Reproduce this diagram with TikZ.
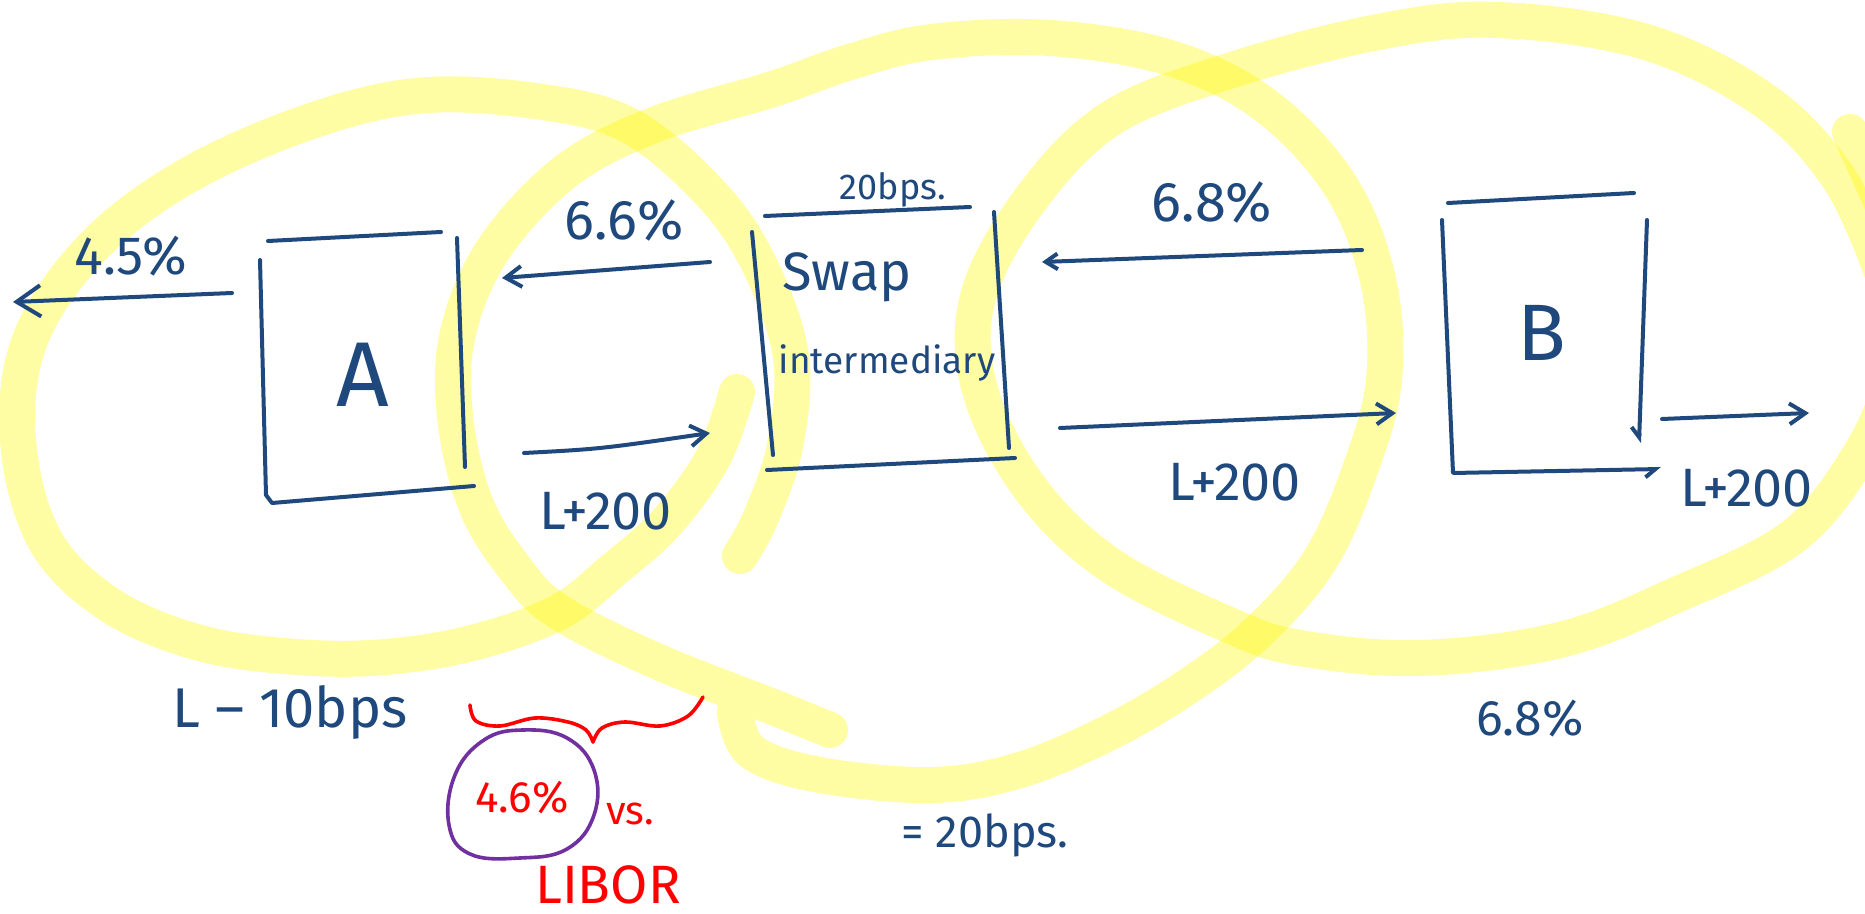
\documentclass[tikz,border=0pt]{standalone}
\usepackage{fontspec}
\setmainfont{Fira Sans}
\usetikzlibrary{arrows.meta}
\definecolor{ink}{RGB}{31,73,125}
\definecolor{hilite}{RGB}{255,250,0}
\definecolor{redink}{RGB}{255,0,0}
\definecolor{violetink}{RGB}{112,48,160}

\begin{document}
\begin{tikzpicture}[x=0.5pt,y=-0.5pt,
    hl/.style={hilite,opacity=0.36,line width=18pt,line cap=round,line join=round},
    pen/.style={ink,line width=2pt,line cap=round,line join=round},
    txt/.style={text=ink,inner sep=0pt,font=\fontsize{#1}{#1}\selectfont},
    redtxt/.style={text=redink,inner sep=0pt,font=\fontsize{#1}{#1}\selectfont},
    barb/.style={-{Straight Barb[length=#1,width=1.3*#1]}},
    hook/.style={-{Straight Barb[harpoon,swap,length=5pt,width=8pt]}}]
    % page
    \useasboundingbox (0,0) rectangle (1865,914);
    \fill[white] (0,0) rectangle (1865,914);
    \clip (0,0) rectangle (1865,914);
    % highlighter loops
    \draw[hl] plot[smooth,tension=0.6] coordinates {(737,392) (713,458) (666,523) (612,571) (559,612) (476,642) (386,657) (297,657) (200,643) (110,605) (45,540) (18,440) (30,340) (90,250) (180,180) (300,125) (416,96) (535,101) (630,126) (713,196) (761,268) (791,357) (785,446) (761,517) (740,556)};
    \draw[hl] plot[smooth,tension=0.6] coordinates {(735,712) (752,752) (820,775) (932,785) (1020,770) (1110,732) (1190,685) (1259,631) (1320,560) (1360,470) (1384,380) (1378,280) (1340,185) (1265,105) (1170,58) (1050,38) (932,42) (850,62) (773,89) (654,125) (565,172) (493,250) (458,333) (455,416) (476,505) (517,571) (559,612) (654,660) (773,707) (830,730)};
    \draw[hl] plot[smooth,tension=0.6] coordinates {(1900,360) (1865,446) (1795,535) (1676,595) (1560,640) (1420,658) (1300,648) (1229,625) (1110,565) (1030,488) (980,390) (978,297) (1030,200) (1110,119) (1229,71) (1378,32) (1497,20) (1646,42) (1765,101) (1840,180) (1885,280)};
    \draw[hl] (1850,132) -- (1885,210);
    % box A
    \draw[pen] (268,241) -- (441,232);
    \draw[pen] (260,260) -- (266,495) -- (272,503) -- (474,486);
    \draw[pen] (457,238) -- (465,467);
    \node[txt=46] (A) at (363,375) {A};
    % swap box
    \draw[pen] (765,216) -- (970,207);
    \draw[pen] (752,232) -- (773,455);
    \draw[pen] (994,212) -- (1009,448);
    \draw[pen] (767,470) -- (1015,458);
    \node[txt=18] (fee) at (893,190) {20bps.};
    \node[txt=27] (swap) at (847,277) {Swap};
    \node[txt=18.5] (inter) at (887,363) {intermediary};
    % box B
    \draw[pen] (1448,203) -- (1634,193);
    \draw[pen,hook] (1442,220) -- (1453,473) -- (1661,469);
    \draw[pen,hook] (1647,220) -- (1639,443);
    \node[txt=40] (B) at (1542,333) {B};
    % arrow ends
    \coordinate (a1) at (232,293);  \coordinate (a0) at (13,302);
    \coordinate (s1) at (710,262);  \coordinate (s0) at (502,278);
    \coordinate (l0) at (524,453);  \coordinate (l1) at (710,433);
    \coordinate (b1) at (1362,250); \coordinate (b0) at (1042,262);
    \coordinate (m0) at (1060,428); \coordinate (m1) at (1396,413);
    \coordinate (o0) at (1662,419); \coordinate (o1) at (1809,413);
    % flows
    \draw[pen,barb=12pt] (a1) -- (a0);
    \draw[pen,barb=8pt] (s1) -- (s0);
    \draw[pen,barb=8pt] (l0) .. controls (600,449) .. (l1);
    \draw[pen,barb=6pt] (b1) -- (b0);
    \draw[pen,barb=8pt] (m0) -- (m1);
    \draw[pen,barb=8pt] (o0) -- (o1);
    % rates
    \node[txt=27] (r45) at (131,256) {4.5\%};
    \node[txt=28] (r66) at (624,220) {6.6\%};
    \node[txt=27] (lA) at (606,511) {L+200};
    \node[txt=28] (r68) at (1212,202) {6.8\%};
    \node[txt=27] (lB) at (1235,482) {L+200};
    \node[txt=27] (lout) at (1747,488) {L+200};
    % net results
    \node[txt=28] (netA) at (290,712) {L -- 10bps};
    \node[txt=22.5] (netS) at (985,835) {= 20bps.};
    \node[txt=25] (netB) at (1530,718) {6.8\%};
    % saving under A
    \draw[redink,line width=1.8pt,line cap=round] plot[smooth,tension=0.6] coordinates {(470,705) (476,721) (500,726) (535,718) (568,722) (586,730) (593,742)};
    \draw[redink,line width=1.8pt,line cap=round] plot[smooth,tension=0.6] coordinates {(593,742) (602,728) (625,722) (660,726) (688,716) (703,697)};
    \draw[violetink,line width=1.8pt] plot[smooth cycle,tension=0.7] coordinates {(523,730) (567,738) (594,770) (594,815) (567,849) (520,858) (470,854) (449,825) (455,775) (484,740)};
    \node[redtxt=22] (fix) at (522,798) {4.6\%};
    \node[redtxt=20] (vs) at (630,814) {vs.};
    \node[redtxt=27] (libor) at (608,885) {LIBOR};
\end{tikzpicture}
\end{document}
